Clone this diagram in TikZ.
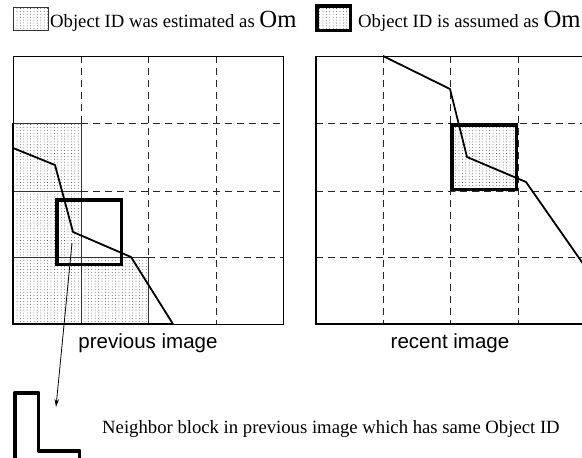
\documentclass[tikz,border=0pt]{standalone}
\usepackage{fontspec}
\setmainfont{Liberation Serif}
\newfontfamily\capfont{Liberation Sans}
\usetikzlibrary{patterns,arrows.meta}
\pgfdeclarepatternformonly{sparsedots}{\pgfqpoint{-1pt}{-1pt}}{\pgfqpoint{1pt}{1pt}}{\pgfqpoint{3.4pt}{2.9pt}}{%
  \pgfpathcircle{\pgfqpoint{0pt}{0pt}}{0.42pt}\pgfusepath{fill}}
\newcommand\legsz{\fontsize{18.7}{22}\selectfont}
\newcommand\capsz{\capfont\fontsize{20.5}{24}\selectfont}
\newcommand\Omtxt{{\fontsize{24.7}{28}\selectfont Om}}
\begin{document}
\begin{tikzpicture}[x=1pt,y=-1pt,
  gridline/.style={draw=black!85,line width=0.9pt,dash pattern=on 7pt off 5pt},
  stip/.style={pattern=sparsedots,pattern color=black!80},
  blockedge/.style={draw=black!80,line width=0.8pt},
  framebox/.style={draw=black,line width=1pt},
  curveline/.style={draw=black,line width=1.8pt,line join=round},
  thickbox/.style={draw=black,line width=3.5pt,line join=miter},
  lbl/.style={inner sep=0pt,anchor=base west,font=\legsz},
  captext/.style={inner sep=0pt,anchor=base,font=\capsz}]
\path[use as bounding box] (0,0) rectangle (582,458);
\clip (0,0) rectangle (582,458);

% legend
\path[stip] (13,7) rectangle (48,30);
\draw[draw=black!80,line width=0.8pt] (13,7) rectangle (48,30);
\node[lbl] (lt1) at (50,27) {Object ID was estimated as \Omtxt};
\path[stip] (316.75,5.75) rectangle (350.25,30.25);
\draw[thickbox] (316.75,5.75) rectangle (350.25,30.25);
\node[lbl] (lt2) at (358,27) {Object ID is assumed as \Omtxt};

% ---- previous image ----
\path[stip] (13,123) rectangle (81,324);
\path[stip] (81,257) rectangle (148,324);
\draw[blockedge] (13,123) -- (81,123) -- (81,324);
\draw[blockedge] (13,191) -- (81,191);
\draw[blockedge] (13,257) -- (148,257) -- (148,324);
\draw[gridline] (81,56) -- (81,123);
\draw[gridline] (148,56) -- (148,257);
\draw[gridline] (216,56) -- (216,324);
\draw[gridline] (81,123) -- (283,123);
\draw[gridline] (81,191) -- (283,191);
\draw[gridline] (148,257) -- (283,257);
\draw[framebox] (13,56) rectangle (283,324);
\draw[line width=2pt] (13,123) -- (13,324) -- (173,324);
\draw[curveline] (13,148) -- (55,165) -- (73,232) -- (131,257) -- (173,324);
\draw[thickbox] (56.75,199.75) rectangle (121.25,264.25);

% ---- recent image ----
\path[stip] (450,123) rectangle (518,191);
\draw[gridline] (383,56) -- (383,324);
\draw[gridline] (450,56) -- (450,324);
\draw[gridline] (518,56) -- (518,324);
\draw[gridline] (316,123) -- (585,123);
\draw[gridline] (316,191) -- (585,191);
\draw[gridline] (316,257) -- (585,257);
\draw[framebox] (316,56) rectangle (585,324);
\draw[line width=2pt] (316,56) -- (316,324) -- (585,324);
\draw[curveline] (383,56) -- (450,89) -- (467,157) -- (526,182) -- (600,288);
\draw[thickbox] (451.75,124.75) rectangle (516.25,189.25);

% captions
\node[captext] (cprev) at (148,348) {previous image};
\node[captext] (crec) at (450,348) {recent image};

% neighbor legend
\draw[line width=3.5pt,line join=round] (14.75,470) -- (14.75,392.75) -- (38.5,392.75) -- (38.5,450.75) -- (79.7,450.75) -- (79.7,470);
\node[lbl] (nt) at (102,433) {Neighbor block in previous image which has same Object ID};
\coordinate (astart) at (72,243);
\coordinate (aend) at (56,407);
\draw[line width=0.8pt,-{Stealth[length=8pt,width=4.5pt]}] (astart) -- (aend);
\end{tikzpicture}
\end{document}
